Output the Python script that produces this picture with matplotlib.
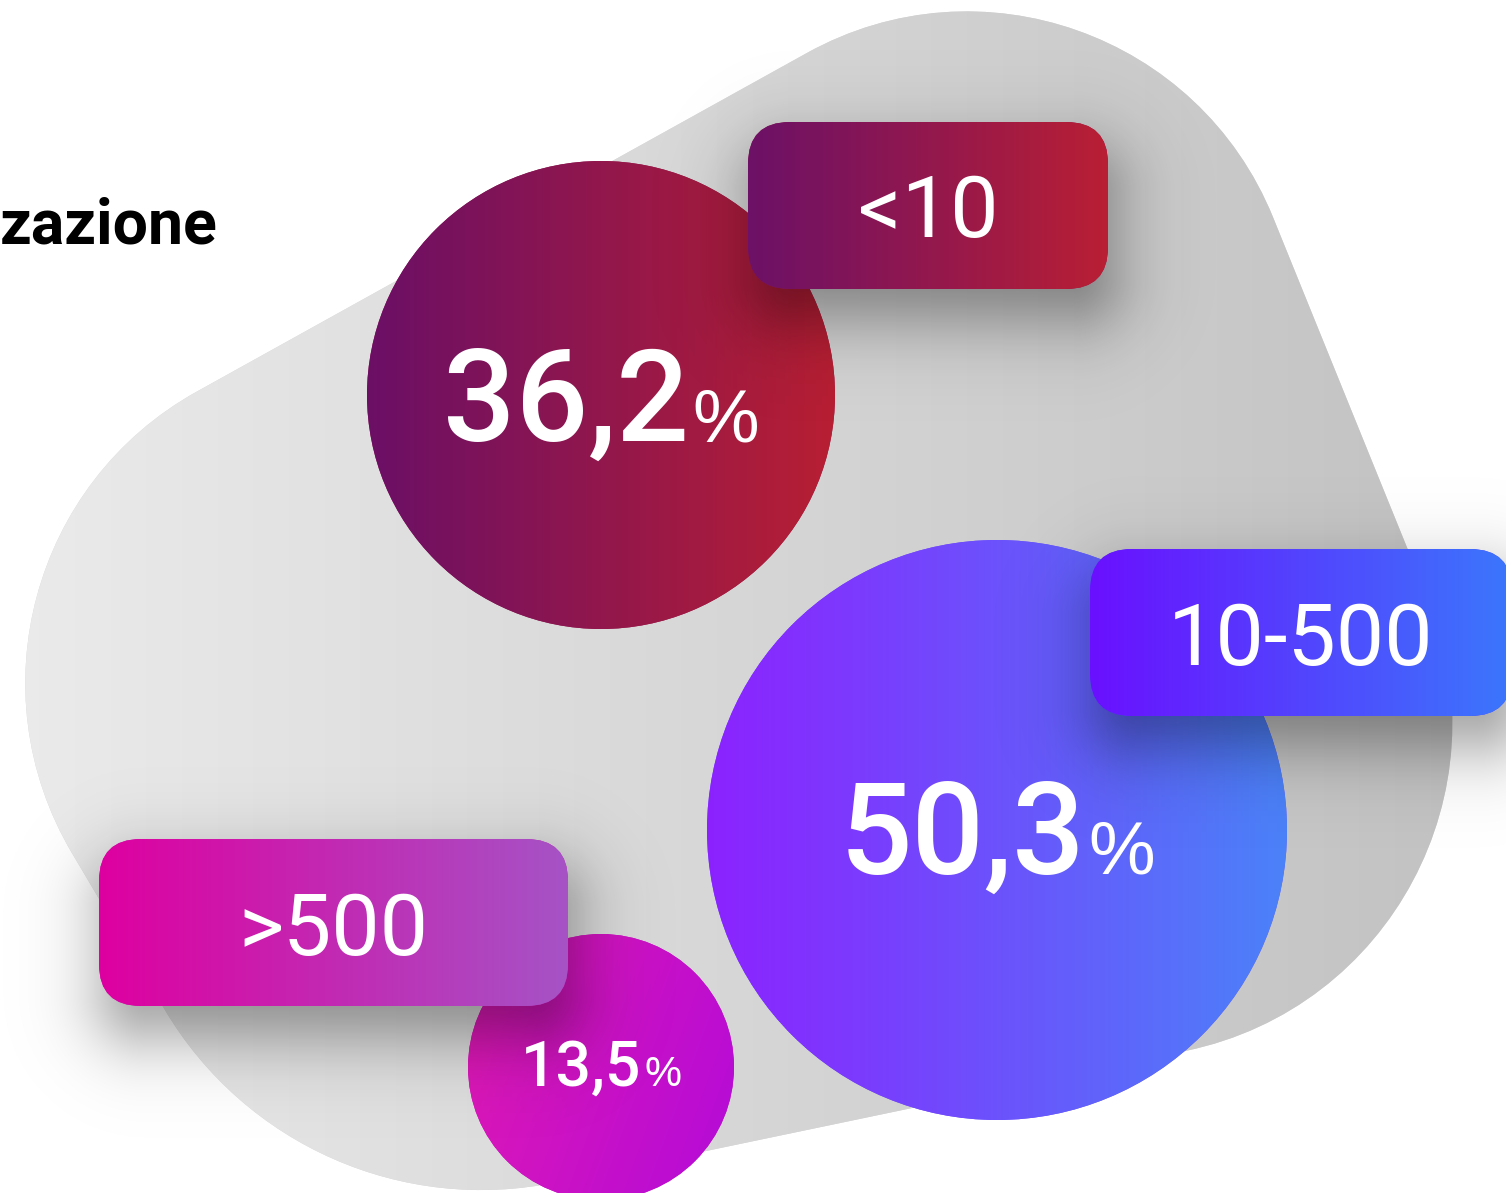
import numpy as np
import matplotlib
matplotlib.use("Agg")
import matplotlib.pyplot as plt
from matplotlib.path import Path
from matplotlib.patches import PathPatch, Circle, FancyBboxPatch
from matplotlib.colors import to_rgb


# ==============================
# DATA
# ==============================
categories = ["<10", "10-500", ">500"]
shares = [36.2, 50.3, 13.5]
title = "zazione"

# ==============================
# LAYOUT / STYLE (pixels, y down)
# ==============================
W, H = 1506, 1193
circle_xy = [(601, 395), (997, 830), (601, 1067)]
circle_r = [234, 290, 133]
circle_cols = [("#6b0f66", "#b81f33"), ("#8c22ff", "#4b82f9"), ("#e21ab2", "#b30ad9")]
circle_angle = [0, 0, -20]
value_pt = [(92, 54), (92, 54), (45, 30)]
value_dy = [46, 44, 19]

box_xy = [(748, 122), (1090, 549), (99, 839)]
box_wh = [(360, 167), (422, 167), (469, 167)]
box_cols = [("#6c1167", "#b91f34"), ("#6a10ff", "#3b77fc"), ("#de00a0", "#a653c6")]
box_r = 42

# blob: corner points of a polygon and how far each corner is rounded
blob_corners = [(1133, -128), (-103, 558), (299, 1236), (1578, 969)]
blob_trims = [373, 343, 263, 400]

FONT = "Roboto"
PCT_FONT = "Liberation Sans"


def rounded_polygon(corners, trims):
    n = len(corners)
    verts, codes = [], []
    for i in range(n):
        C = np.array(corners[i], float)
        P = np.array(corners[i - 1], float)
        N = np.array(corners[(i + 1) % n], float)
        u1 = (P - C) / np.linalg.norm(P - C)
        u2 = (N - C) / np.linalg.norm(N - C)
        t = trims[i]
        A = C + u1 * t
        B = C + u2 * t
        phi = np.pi - np.arccos(np.clip(np.dot(u1, u2), -1, 1))
        k = 4 / 3 * np.tan(phi / 4) / np.tan(phi / 2)
        verts.append(A)
        codes.append(Path.MOVETO if i == 0 else Path.LINETO)
        verts += [A + k * (C - A), B + k * (C - B), B]
        codes += [Path.CURVE4] * 3
    verts.append(verts[0])
    codes.append(Path.CLOSEPOLY)
    return Path(np.array(verts), codes)


def gradient_image(ax, patch, c0, c1, bbox, angle=0, z=2):
    x0, y0, x1, y1 = bbox
    xs = np.linspace(0, 1, 200)
    ys = np.linspace(0, 1, 200)
    X, Y = np.meshgrid(xs, ys)
    a = np.deg2rad(angle)
    # y is down in pixel space; angle measured with y up
    t = (X - 0.5) * np.cos(a) - (Y - 0.5) * np.sin(a)
    t = (t - t.min()) / (t.max() - t.min())
    c0 = np.array(to_rgb(c0))
    c1 = np.array(to_rgb(c1))
    img = c0[None, None, :] * (1 - t[..., None]) + c1[None, None, :] * t[..., None]
    im = ax.imshow(img, extent=(x0, x1, y1, y0), zorder=z, interpolation="bilinear", aspect="auto")
    im.set_clip_path(patch)
    return im


def box_sdf(X, Y, cx, cy, hw, hh, r):
    qx = np.abs(X - cx) - (hw - r)
    qy = np.abs(Y - cy) - (hh - r)
    outside = np.hypot(np.maximum(qx, 0), np.maximum(qy, 0))
    inside = np.minimum(np.maximum(qx, qy), 0)
    return outside + inside - r


def main():
    fig = plt.figure(figsize=(W / 100, H / 100), dpi=100)
    ax = fig.add_axes([0, 0, 1, 1])
    ax.set_xlim(0, W)
    ax.set_ylim(H, 0)
    ax.axis("off")

    # --------------------------
    # GREY BLOB
    # --------------------------
    blob = PathPatch(rounded_polygon(blob_corners, blob_trims), facecolor="#d6d6d6",
                     edgecolor="none", zorder=1)
    ax.add_patch(blob)
    gradient_image(ax, blob, "#ebebeb", "#c2c2c2", (0, 0, 1470, H), z=1.1)

    # --------------------------
    # CIRCLES
    # --------------------------
    for (cx, cy), r, cols, ang in zip(circle_xy, circle_r, circle_cols, circle_angle):
        mid = tuple((np.array(to_rgb(cols[0])) + np.array(to_rgb(cols[1]))) / 2)
        circ = Circle((cx, cy), r, facecolor=mid, edgecolor="none", zorder=2)
        ax.add_patch(circ)
        gradient_image(ax, circ, cols[0], cols[1], (cx - r, cy - r, cx + r, cy + r), ang, z=2.1)

    # --------------------------
    # BOX SHADOWS
    # --------------------------
    X, Y = np.meshgrid(np.arange(W) + 0.5, np.arange(H) + 0.5)
    alpha = np.zeros((H, W))
    for (bx, by), (bw, bh) in zip(box_xy, box_wh):
        d = box_sdf(X, Y, bx + bw / 2 + 6, by + bh / 2 + 30, bw / 2, bh / 2, box_r)
        a = 0.40 / (1 + np.exp(d / 22))
        alpha = 1 - (1 - alpha) * (1 - a)
    shadow = np.zeros((H, W, 4))
    shadow[..., 3] = alpha
    ax.imshow(shadow, extent=(0, W, H, 0), zorder=3, interpolation="bilinear", aspect="auto")

    # --------------------------
    # LABEL BOXES
    # --------------------------
    for (bx, by), (bw, bh), cols, lab in zip(box_xy, box_wh, box_cols, categories):
        mid = tuple((np.array(to_rgb(cols[0])) + np.array(to_rgb(cols[1]))) / 2)
        box = FancyBboxPatch((bx + box_r, by + box_r), bw - 2 * box_r, bh - 2 * box_r,
                             boxstyle=f"round,pad={box_r},rounding_size={box_r}",
                             facecolor=mid, edgecolor="none", zorder=4)
        ax.add_patch(box)
        gradient_image(ax, box, cols[0], cols[1], (bx, by, bx + bw, by + bh), z=4.1)
        ax.text(bx + bw / 2, by + bh / 2 + 32, lab, color="white", fontsize=62,
                family=FONT, ha="center", va="baseline", zorder=5)

    # --------------------------
    # PERCENT VALUES
    # --------------------------
    renderer = fig.canvas.get_renderer()
    for (cx, cy), val, (p1, p2), dy in zip(circle_xy, shares, value_pt, value_dy):
        num = f"{val:.1f}".replace(".", ",")
        t1 = ax.text(0, cy + dy, num, color="white", fontsize=p1, family=FONT,
                     fontweight="medium", ha="left", va="baseline", zorder=5)
        t2 = ax.text(0, cy + dy, "%", color="white", fontsize=p2, family=PCT_FONT,
                     ha="left", va="baseline", zorder=5)
        w1 = t1.get_window_extent(renderer).width
        w2 = t2.get_window_extent(renderer).width
        gap = 3
        start = cx - (w1 + gap + w2) / 2
        t1.set_x(start)
        t2.set_x(start + w1 + gap)

    # --------------------------
    # TITLE (sits at the left edge)
    # --------------------------
    ax.text(218, 243, title, color="black", fontsize=45, family=FONT,
            fontweight="bold", ha="right", va="baseline", zorder=5)

    ax.set_xlim(0, W)
    ax.set_ylim(H, 0)
    fig.savefig("out.png", dpi=100)


if __name__ == "__main__":
    main()
